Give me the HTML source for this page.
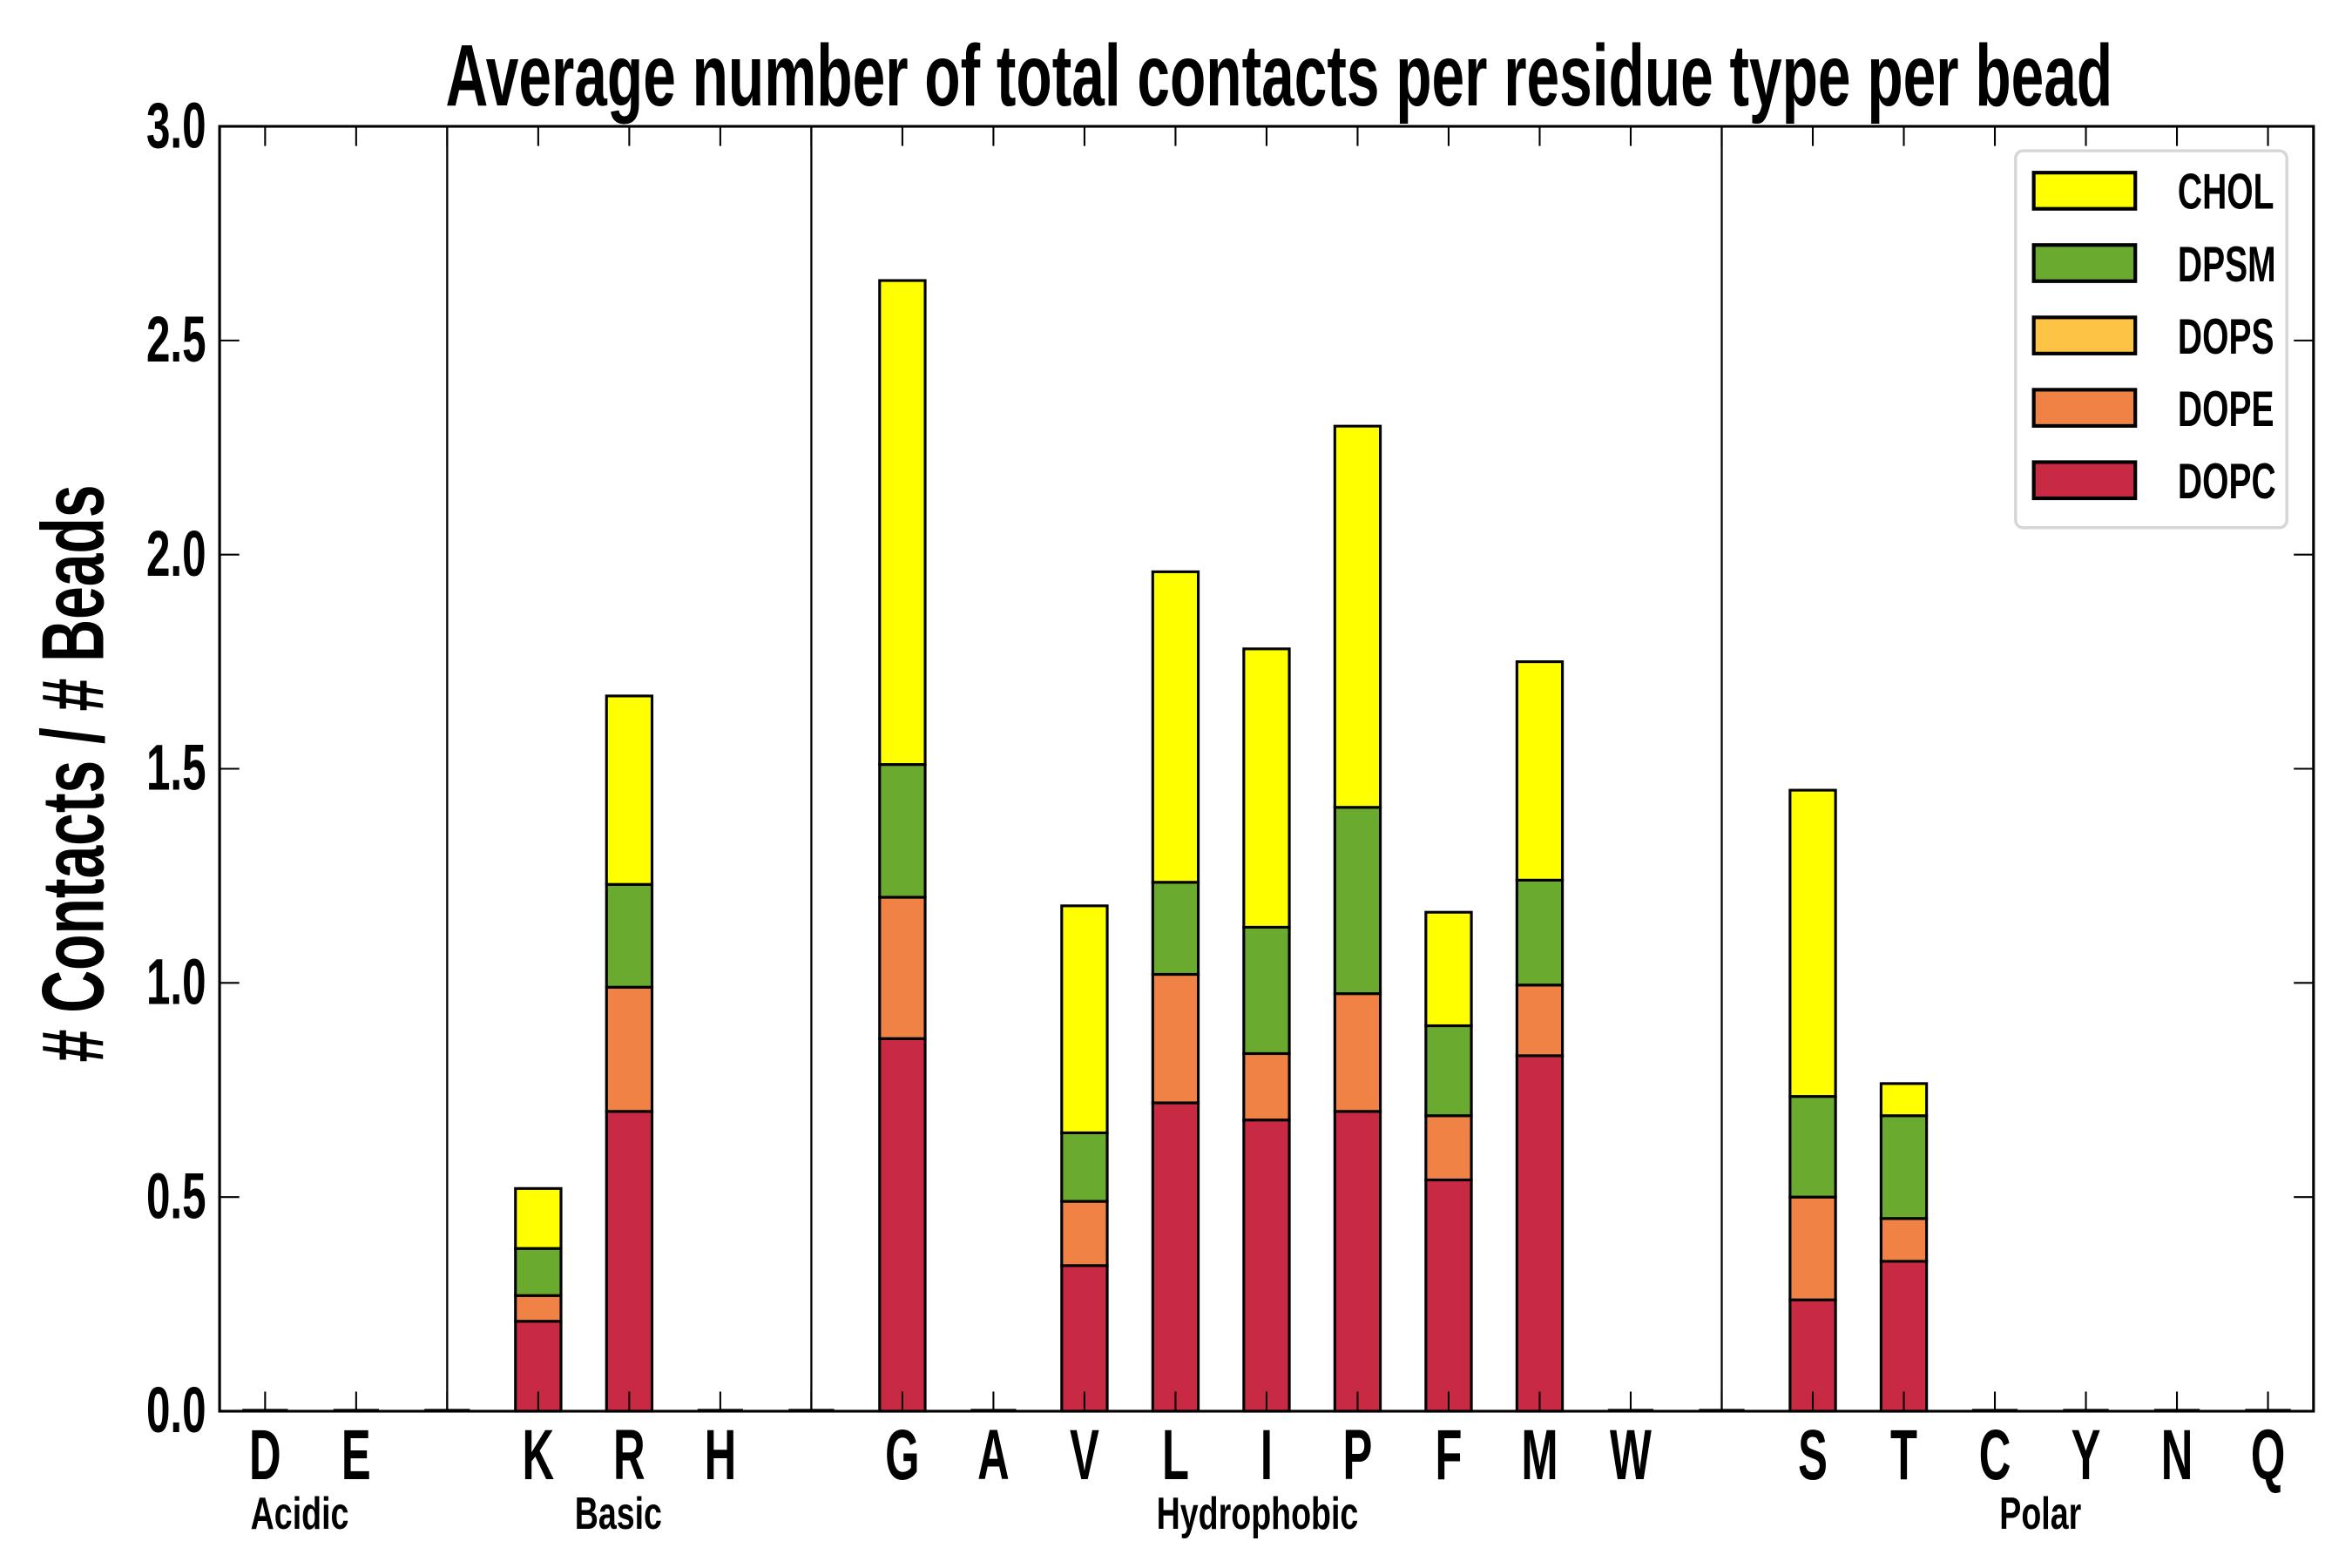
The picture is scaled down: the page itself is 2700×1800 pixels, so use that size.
<!DOCTYPE html>
<html><head><meta charset="utf-8"><style>
html,body{margin:0;padding:0;background:#fff;}
svg{display:block;}
text{font-family:"Liberation Sans Narrow","Liberation Sans",sans-serif;font-weight:bold;fill:#000;}
</style></head><body>
<svg id="chart" width="2700" height="1800" viewBox="0 0 1552 1040" preserveAspectRatio="none" xmlns="http://www.w3.org/2000/svg">
<rect x="0" y="0" width="1552" height="1040" fill="#fff"/>
<text x="844" y="70" font-size="58" text-anchor="middle" textLength="1100" lengthAdjust="spacingAndGlyphs">Average number of total contacts per residue type per bead</text>
<text font-size="58" text-anchor="middle" textLength="383" lengthAdjust="spacingAndGlyphs" transform="translate(68,513) rotate(-90)" x="0" y="0"># Contacts / # Beads</text>
<g id="plot"></g>
</svg>
<script>
const categories = ["D","E","","K","R","H","","G","A","V","L","I","P","F","M","W","","S","T","C","Y","N","Q"];
const separators = [2,6,16];
const dopc = [0,0,0,0.21,0.70,0,0,0.87,0,0.34,0.72,0.68,0.70,0.54,0.83,0,0,0.26,0.35,0,0,0,0];
const dope = [0,0,0,0.06,0.29,0,0,0.33,0,0.15,0.30,0.155,0.275,0.15,0.165,0,0,0.24,0.10,0,0,0,0];
const dops = [0,0,0,0,0,0,0,0,0,0,0,0,0,0,0,0,0,0,0,0,0,0,0];
const dpsm = [0,0,0,0.11,0.24,0,0,0.31,0,0.16,0.215,0.295,0.435,0.21,0.245,0,0,0.235,0.24,0,0,0,0];
const chol = [0,0,0,0.14,0.44,0,0,1.13,0,0.53,0.725,0.65,0.89,0.265,0.51,0,0,0.715,0.075,0,0,0,0];
const yTicks = [0,0.5,1.0,1.5,2.0,2.5,3.0];
const groups = ["Acidic","Basic","Hydrophobic","Polar"];
const groupPos = [0.38,3.88,10.9,19.5];
const seriesNames = ["DOPC","DOPE","DOPS","DPSM","CHOL"];
const seriesColors = ["#c72a42","#ef8244","#fcc344","#6aaa2e","#ffff00"];

const L=144.9,R=1526.6,T=83.8,B=936;
const xs = i => L + (i+0.5)/23*(R-L);
const ys = v => B - v/3*(B-T);
const NS="http://www.w3.org/2000/svg";
const g=document.getElementById('plot');
function mk(tag,attrs){const e=document.createElementNS(NS,tag);for(const k in attrs)e.setAttribute(k,attrs[k]);g.appendChild(e);return e;}

separators.forEach(i=>{
  const l=mk('line',{x1:xs(i),x2:xs(i),y1:T,y2:B,stroke:'#000','stroke-width':1.3});
  
  
});
const series=[dopc,dope,dops,dpsm,chol];
const bw=(R-L)/23*0.5;
categories.forEach((c,i)=>{
  let base=0;
  series.forEach((s,k)=>{
    const v=s[i];
    if(v>0){
      const r=mk('rect',{x:xs(i)-bw/2,y:ys(base+v),width:bw,height:ys(base)-ys(base+v),fill:seriesColors[k],stroke:'#000','stroke-width':1.8});
      
      
    }
    base+=v;
  });
  if(base===0){
    const z=mk('line',{x1:xs(i)-bw/2,x2:xs(i)+bw/2,y1:B-0.8,y2:B-0.8,stroke:'#000','stroke-width':1.5});
    
    
  }
});
categories.forEach((c,i)=>{
  const x=xs(i);
  const t1=mk('line',{x1:x,x2:x,y1:T,y2:T+13,stroke:'#000','stroke-width':1.2});
  
  
  const t2=mk('line',{x1:x,x2:x,y1:B,y2:B-13,stroke:'#000','stroke-width':1.2});
  
  
  if(c){
    const tx=mk('text',{x:x,y:981,'font-size':47,'text-anchor':'middle',transform:`translate(${x},0) scale(0.62,1) translate(${-x},0)`});
    tx.textContent=c;
    
    
  }
});
groups.forEach((gr,i)=>{
  const x=xs(groupPos[i]);
  const tx=mk('text',{x:x,y:1014,'font-size':30,'text-anchor':'middle',transform:`translate(${x},0) scale(0.72,1) translate(${-x},0)`});
  tx.textContent=gr;
  
  
});
yTicks.forEach(v=>{
  const y=ys(v);
  const a=mk('line',{x1:L,x2:L+13,y1:y,y2:y,stroke:'#000','stroke-width':1.2});
  
  
  const b=mk('line',{x1:R,x2:R-13,y1:y,y2:y,stroke:'#000','stroke-width':1.2});
  
  
  const tx=mk('text',{x:136,y:y+14,'font-size':43,'text-anchor':'end',transform:`translate(136,0) scale(0.66,1) translate(-136,0)`});
  tx.textContent=v.toFixed(1);
  
  
});
const fr=mk('rect',{x:L,y:T,width:R-L,height:B-T,fill:'none',stroke:'#000','stroke-width':1.8});


const lg=mk('rect',{x:1330,y:100,width:179,height:250,rx:5,fill:'#fff',stroke:'#d6d6d6','stroke-width':2});


for(let k=4;k>=0;k--){
  const row=4-k;
  const cy=126.5+row*48;
  const sw=mk('rect',{x:1342,y:cy-12,width:67,height:24,fill:seriesColors[k],stroke:'#000','stroke-width':2.4});
  
  
  const tx=mk('text',{x:1437,y:cy+12,'font-size':33,transform:`translate(1437,0) scale(0.68,1) translate(-1437,0)`});
  tx.textContent=seriesNames[k];
  
  
}
</script>
</body></html>
